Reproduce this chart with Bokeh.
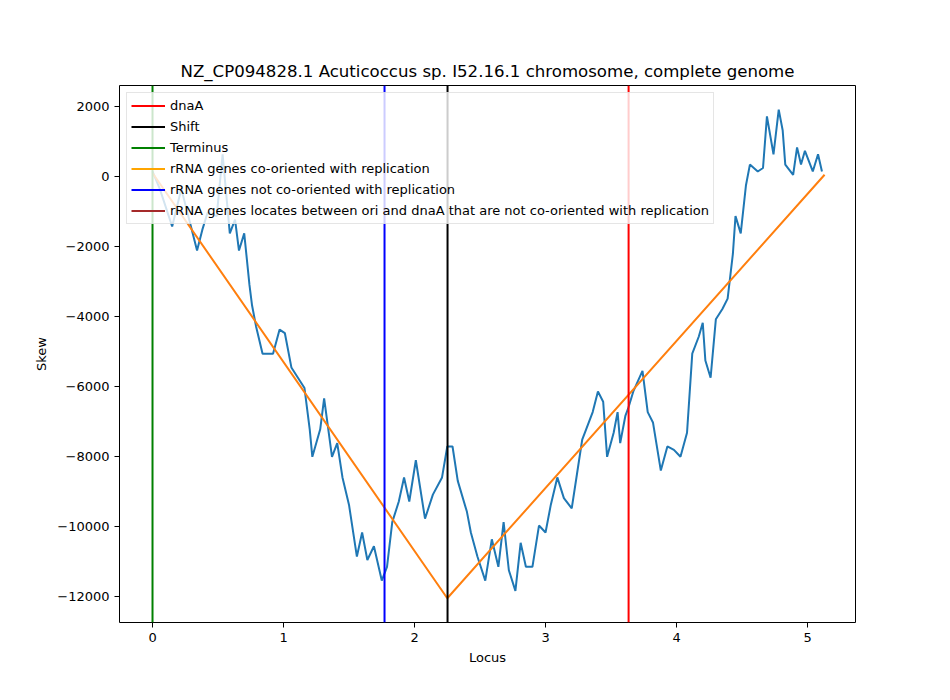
import numpy as np
from bokeh.plotting import figure
from bokeh.models import Span, Label, Legend, LegendItem, FixedTicker
from bokeh.embed import file_html
from bokeh.resources import INLINE

title = "NZ_CP094828.1 Acuticoccus sp. I52.16.1 chromosome, complete genome"

# skew curve, locus in Mb
locus_mb = [0.0, 0.055, 0.15, 0.22, 0.34, 0.38, 0.42, 0.49, 0.535, 0.59, 0.63, 0.66, 0.70,
            0.74, 0.76, 0.79, 0.84, 0.92, 0.97, 1.01, 1.06, 1.11, 1.16, 1.20, 1.22, 1.28,
            1.31, 1.37, 1.41, 1.45, 1.50, 1.56, 1.60, 1.64, 1.69, 1.75, 1.79, 1.83, 1.88,
            1.92, 1.96, 2.01, 2.08, 2.14, 2.21, 2.25, 2.29, 2.33, 2.40, 2.43, 2.48, 2.54,
            2.59, 2.64, 2.68, 2.72, 2.77, 2.81, 2.85, 2.90, 2.95, 3.00, 3.04, 3.09, 3.14,
            3.20, 3.24, 3.28, 3.31, 3.36, 3.40, 3.44, 3.47, 3.52, 3.55, 3.57, 3.61, 3.63,
            3.67, 3.74, 3.78, 3.82, 3.88, 3.93, 3.98, 4.03, 4.08, 4.12, 4.17, 4.20, 4.22,
            4.26, 4.30, 4.35, 4.39, 4.43, 4.45, 4.49, 4.53, 4.56, 4.62, 4.66, 4.69, 4.74,
            4.78, 4.81, 4.83, 4.89, 4.92, 4.95, 4.98, 5.04, 5.08, 5.11]
skew = [144, -347, -1427, -347, -2115, -1526, -1035, -1133, 635, -1624, -1231, -2115, -1624,
        -3097, -3687, -4276, -5062, -5062, -4374, -4473, -5455, -5750, -6044, -7223, -8009, -7223,
        -6339, -8009, -7616, -8598, -9384, -10858, -10170, -10956, -10563, -11545, -11152, -9875, -9286,
        -8598, -9286, -8107, -9777, -9089, -8598, -7714, -7714, -8696, -9581, -10170, -10858, -11545,
        -10366, -11152, -9875, -11250, -11840, -10465, -11152, -11152, -9973, -10170, -9384, -8598, -9188,
        -9482, -8500, -7518, -7223, -6732, -6142, -6437, -8009, -7321, -6732, -7616, -6830, -6634,
        -6142, -5553, -6732, -7027, -8402, -7714, -7812, -8009, -7321, -5062, -4571, -4178, -5258,
        -5750, -4080, -3785, -3490, -2213, -1133, -1624, -249, 341, 144, 243, 1716, 635,
        1912, 1323, 341, 46, 832, 341, 734, 144, 635, 144]

# fitted line
fit_mb = [0.0, 2.25, 5.13]
fit_skew = [100, -12050, 50]

# marker positions, Mb
terminus_mb = 0.0
rrna_not_mb = 1.771
shift_mb = 2.252
dnaa_mb = 3.634

font = "DejaVu Sans"
p = figure(width=934, height=684, output_backend="svg", toolbar_location=None,
           x_range=(-0.252e6, 5.366e6), y_range=(-12743, 2600),
           min_border_left=119, min_border_right=79, min_border_top=85, min_border_bottom=62)
p.title.text = title
p.title.align = "center"
p.title.text_font = font
p.title.text_font_size = "16.6px"
p.title.text_font_style = "normal"
p.title.text_color = "black"
p.grid.visible = False
p.outline_line_color = "black"
p.outline_line_width = 1
p.outline_line_alpha = 1

for ax in (p.xaxis, p.yaxis):
    ax.axis_label_text_font = font
    ax.axis_label_text_font_size = "13px"
    ax.axis_label_text_font_style = "normal"
    ax.axis_label_text_color = "black"
    ax.major_label_text_font = font
    ax.major_label_text_font_size = "13px"
    ax.major_label_text_color = "black"
    ax.minor_tick_line_color = None
    ax.major_tick_line_color = "black"
    ax.major_tick_in = 0
    ax.major_tick_out = 5
    ax.axis_line_color = None
p.xaxis.axis_label = "Locus"
p.yaxis.axis_label = "Skew"
p.xaxis.ticker = FixedTicker(ticks=[0, 1e6, 2e6, 3e6, 4e6, 5e6])
p.xaxis.major_label_overrides = {0: "0", 1e6: "1", 2e6: "2", 3e6: "3", 4e6: "4", 5e6: "5"}
p.yaxis.ticker = FixedTicker(ticks=list(range(-12000, 2001, 2000)))
p.yaxis.major_label_overrides = {v: str(v).replace("-", "\u2212") for v in range(-12000, 1, 2000)}

p.line(np.array(locus_mb) * 1e6, skew, line_color="#1f77b4", line_width=2)
p.line(np.array(fit_mb) * 1e6, fit_skew, line_color="#ff7f0e", line_width=2)

for pos, col in [(terminus_mb, "green"), (rrna_not_mb, "blue"), (shift_mb, "black"), (dnaa_mb, "red")]:
    p.add_layout(Span(location=pos * 1e6, dimension="height", line_color=col, line_width=2))

names = ["dnaA", "Shift", "Terminus", "rRNA genes co-oriented with replication",
         "rRNA genes not co-oriented with replication",
         "rRNA genes locates between ori and dnaA that are not co-oriented with replication"]
colors = ["red", "black", "green", "orange", "blue", "brown"]
items = []
for n, c in zip(names, colors):
    # legend-only renderers, placed outside the visible range
    r = p.line([-1e9, -1e9], [0, 1], line_color=c, line_width=2)
    items.append(LegendItem(label=n, renderers=[r]))
legend = Legend(items=items, location="top_left", label_text_font=font, label_text_font_size="13px",
                label_text_color="black",
                label_height=17, glyph_height=17, glyph_width=34, spacing=4, padding=4, margin=7,
                border_line_color="#cccccc", background_fill_alpha=0.8)
p.add_layout(legend, "center")

p.add_layout(Label(x=700, y=-10, x_units="screen", y_units="screen", text="1e6",
                   text_font=font, text_font_size="13px", text_baseline="top"), "below")

open("out.html", "w").write(file_html(p, INLINE))
